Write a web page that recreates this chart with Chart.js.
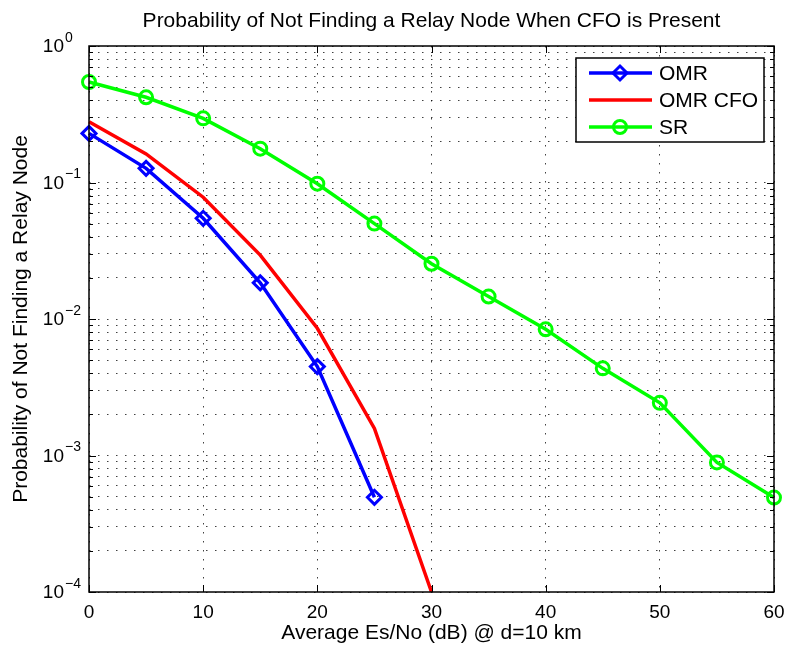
<!DOCTYPE html>
<html lang="en">
<head>
  <meta charset="UTF-8" />
  <title>Probability of Not Finding a Relay Node</title>
  <script src="https://cdn.jsdelivr.net/npm/chart.js"></script>
  <style>
    * { margin: 0; padding: 0; box-sizing: border-box; }
    body { background: #fff; width: 788px; height: 651px; overflow: hidden; }
  </style>
</head>
<body>
  <canvas id="relayChart" width="788" height="651"></canvas>

  <script>
    // values
    const snrOMR = [0, 5, 10, 15, 20, 25];
    const probOMR = [0.229, 0.127, 0.0547, 0.0184, 0.00448, 0.000494];
    const snrCFO = [0, 5, 10, 15, 20, 25, 30];
    const probCFO = [0.279, 0.162, 0.078, 0.0294, 0.00855, 0.00158, 0.0001];
    const snrSR = [0, 5, 10, 15, 20, 25, 30, 35, 40, 45, 50, 55, 60];
    const probSR = [0.545, 0.421, 0.295, 0.177, 0.098, 0.050, 0.0254, 0.0146, 0.0084, 0.00435, 0.00243, 0.00089, 0.000492];
    const xTicks = [0, 10, 20, 30, 40, 50, 60];
    const yDecades = [1e-4, 1e-3, 1e-2, 1e-1, 1];

    const FONT = "'Liberation Sans', Arial, sans-serif";
    const gridColor = 'rgba(0,0,0,0.75)';
    const gridDash = [1.5, 7.5];

    function pairs(xs, ys) {
      return xs.map((x, i) => ({ x: x, y: ys[i] }));
    }

    // all 1..9 x 10^k values for the dotted log grid
    function logTicks() {
      const out = [];
      for (let d = 0; d < yDecades.length - 1; d++) {
        for (let m = 1; m < 10; m++) out.push({ value: yDecades[d] * m });
      }
      out.push({ value: yDecades[yDecades.length - 1] });
      return out;
    }

    const framePlugin = {
      id: 'frame',
      beforeDraw(chart) {
        const c = chart.ctx;
        c.save();
        c.fillStyle = '#fff';
        c.fillRect(0, 0, chart.width, chart.height);
        c.restore();
      },
      afterDraw(chart) {
        const c = chart.ctx;
        const a = chart.chartArea;
        const xs = chart.scales.x;
        const ys = chart.scales.y;
        c.save();

        // inward tick marks
        c.strokeStyle = '#000';
        c.lineWidth = 1;
        c.beginPath();
        xTicks.forEach(v => {
          const px = Math.round(xs.getPixelForValue(v)) + 0.5;
          c.moveTo(px, a.bottom); c.lineTo(px, a.bottom - 7);
          c.moveTo(px, a.top); c.lineTo(px, a.top + 7);
        });
        ys.ticks.forEach(t => {
          const py = Math.round(ys.getPixelForValue(t.value)) + 0.5;
          const len = yDecades.includes(t.value) ? 7 : 4;
          c.moveTo(a.left, py); c.lineTo(a.left + len, py);
          c.moveTo(a.right, py); c.lineTo(a.right - len, py);
        });
        c.stroke();

        // axes box
        c.lineWidth = 1.5;
        c.strokeRect(a.left, a.top, a.right - a.left, a.bottom - a.top);

        // y tick labels as 10^k
        c.fillStyle = '#000';
        c.textBaseline = 'middle';
        yDecades.forEach(v => {
          const py = ys.getPixelForValue(v);
          const exp = Math.round(Math.log10(v));
          c.font = '19px ' + FONT;
          c.textAlign = 'right';
          c.fillText('10', 64, py + 1);
          c.font = '14px ' + FONT;
          c.textAlign = 'left';
          c.fillText(exp < 0 ? '\u2212' + (-exp) : String(exp), 65, py - 8);
        });

        // title
        c.font = '21px ' + FONT;
        c.textAlign = 'center';
        c.fillText('Probability of Not Finding a Relay Node When CFO is Present', (a.left + a.right) / 2, 21);

        // legend box
        const bx = 576, by = 58, bw = 188, bh = 84;
        c.fillStyle = '#fff';
        c.fillRect(bx, by, bw, bh);
        c.lineWidth = 1.5;
        c.strokeStyle = '#000';
        c.strokeRect(bx, by, bw, bh);
        chart.data.datasets.forEach((ds, i) => {
          const ry = by + 15 + i * 27;
          c.strokeStyle = ds.borderColor;
          c.lineWidth = ds.borderWidth;
          c.beginPath();
          c.moveTo(589, ry); c.lineTo(652, ry);
          c.stroke();
          if (ds.pointRadius > 0) {
            c.fillStyle = 'rgba(0,0,0,0)';
            c.lineWidth = ds.pointBorderWidth;
            Chart.helpers.drawPoint(c, {
              pointStyle: ds.pointStyle,
              radius: ds.pointRadius,
              borderWidth: ds.pointBorderWidth
            }, 620, ry);
          }
          c.fillStyle = '#000';
          c.font = '21px ' + FONT;
          c.textAlign = 'left';
          c.textBaseline = 'middle';
          c.fillText(ds.label, 659, ry + 1);
        });
        c.restore();
      }
    };

    new Chart(document.getElementById('relayChart'), {
      type: 'line',
      data: {
        datasets: [
          {
            label: 'OMR',
            data: pairs(snrOMR, probOMR),
            borderColor: '#0000ff',
            borderWidth: 3.5,
            pointStyle: 'rectRot',
            pointRadius: 7,
            pointBorderWidth: 3,
            pointBorderColor: '#0000ff',
            pointBackgroundColor: 'rgba(0,0,0,0)',
            clip: false
          },
          {
            label: 'OMR CFO',
            data: pairs(snrCFO, probCFO),
            borderColor: '#ff0000',
            borderWidth: 3.5,
            pointRadius: 0,
            clip: false
          },
          {
            label: 'SR',
            data: pairs(snrSR, probSR),
            borderColor: '#00ff00',
            borderWidth: 3.5,
            pointStyle: 'circle',
            pointRadius: 6.5,
            pointBorderWidth: 3,
            pointBorderColor: '#00ff00',
            pointBackgroundColor: 'rgba(0,0,0,0)',
            clip: false
          }
        ]
      },
      options: {
        responsive: false,
        animation: false,
        layout: { padding: { top: 46, right: 14, left: 0, bottom: 0 } },
        plugins: {
          legend: { display: false },
          tooltip: { enabled: false },
          title: { display: false }
        },
        scales: {
          x: {
            type: 'linear',
            min: 0,
            max: 60,
            afterFit(scale) {
              scale.height = 59;
              scale.paddingLeft = 0;
              scale.paddingRight = 0;
            },
            afterBuildTicks(scale) { scale.ticks = xTicks.map(v => ({ value: v })); },
            grid: {
              color: gridColor,
              lineWidth: 1,
              drawTicks: false
            },
            border: { display: false, dash: gridDash },
            ticks: {
              color: '#000',
              padding: 9,
              font: { family: FONT, size: 19 },
              maxRotation: 0
            },
            title: {
              display: true,
              text: 'Average Es/No (dB) @ d=10 km',
              color: '#000',
              font: { family: FONT, size: 21 },
              padding: { top: 0, bottom: 5 }
            }
          },
          y: {
            type: 'logarithmic',
            min: 1e-4,
            max: 1,
            afterFit(scale) {
              scale.width = 89;
              scale.paddingTop = 0;
              scale.paddingBottom = 0;
            },
            afterBuildTicks(scale) { scale.ticks = logTicks(); },
            grid: {
              color: gridColor,
              lineWidth: 1,
              drawTicks: false
            },
            border: { display: false, dash: gridDash },
            ticks: { display: false },
            title: {
              display: true,
              text: 'Probability of Not Finding a Relay Node',
              color: '#000',
              font: { family: FONT, size: 21 },
              padding: { top: 9, bottom: 0 }
            }
          }
        }
      },
      plugins: [framePlugin]
    });
  </script>
</body>
</html>
